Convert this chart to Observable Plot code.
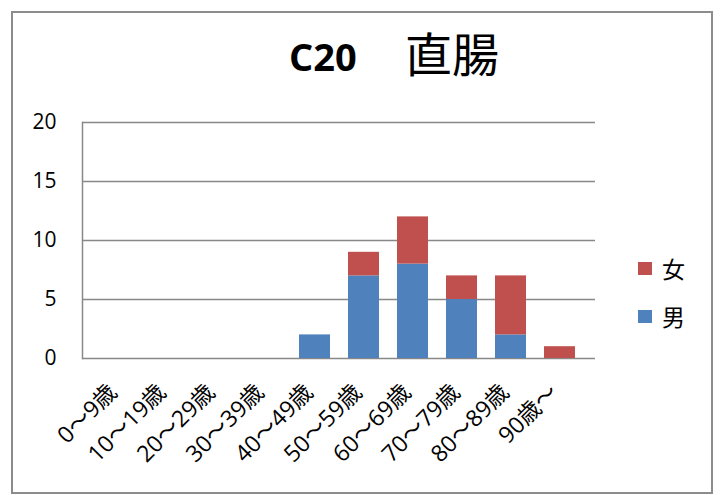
<!DOCTYPE html>
<html>
<head>
<meta charset="utf-8">
<script src="https://cdn.jsdelivr.net/npm/d3@7"></script>
<script src="https://cdn.jsdelivr.net/npm/@observablehq/plot@0.6"></script>
<style>
  html, body { margin: 0; padding: 0; background: #fff; }
  #wrap { position: relative; width: 721px; height: 495px; overflow: hidden; font-family: "Open Sans", "Noto Sans CJK JP", sans-serif; }
  #border { position: absolute; left: 11px; top: 11px; width: 702px; height: 483px; border: 2px solid #8c8c8c; box-sizing: border-box; pointer-events: none; }
  .t { position: absolute; color: #000; white-space: pre; line-height: 1; }
  #t1 { left: 289px; top: 37px; font-size: 38px; font-weight: 700; font-family: "Open Sans", sans-serif; }
  #t2 { left: 405px; top: 28px; font-size: 47px; font-family: "Noto Sans CJK JP", sans-serif; }
  .leg { position: absolute; left: 638px; font-size: 23px; line-height: 30px; font-family: "Noto Sans CJK JP", sans-serif; display: flex; align-items: center; }
  .leg i { display: inline-block; width: 14px; height: 13px; margin-right: 10px; }
  #plot { position: absolute; left: 0; top: 0; }
</style>
</head>
<body>
<div id="wrap">
  <div id="plot"></div>
  <div id="t1" class="t">C20</div>
  <div id="t2" class="t">直腸</div>
  <div id="legend"></div>
  <div id="border"></div>
</div>
<script>
const ageGroups = ["0～9歳", "10～19歳", "20～29歳", "30～39歳", "40～49歳", "50～59歳", "60～69歳", "70～79歳", "80～89歳", "90歳～"];
const male = [0, 0, 0, 0, 2, 7, 8, 5, 2, 0];
const female = [0, 0, 0, 0, 0, 2, 4, 2, 5, 1];
const sexes = ["男", "女"];
const colors = ["#4F81BD", "#C0504D"];
const yTicks = [0, 5, 10, 15, 20];

const rows = [
  ...ageGroups.map((a, i) => ({age: a, sex: "男", value: male[i]})),
  ...ageGroups.map((a, i) => ({age: a, sex: "女", value: female[i]}))
];

const chart = Plot.plot({
  width: 721,
  height: 495,
  marginLeft: 82,
  marginRight: 126,
  marginTop: 122,
  marginBottom: 137,
  style: {fontFamily: "'Open Sans', 'Noto Sans CJK JP', sans-serif", fontSize: "20px", color: "#000", background: "transparent"},
  x: {domain: ageGroups, padding: 0.37, label: null},
  y: {domain: [0, 20], label: null},
  color: {domain: sexes, range: colors},
  marks: [
    Plot.ruleY(yTicks, {stroke: "#888", strokeWidth: 1.5}),
    Plot.frame({anchor: "left", stroke: "#888", strokeWidth: 1.5}),
    Plot.barY(rows, Plot.stackY({x: "age", y: "value", fill: "sex", order: sexes})),
    Plot.axisY(yTicks, {tickSize: 0, tickPadding: 26, fontSize: 21, fill: "#000"}),
    Plot.axisX({tickSize: 0, tickRotate: -45, tickPadding: 30, fontSize: 23, fill: "#000", dx: -6})
  ]
});
document.getElementById("plot").appendChild(chart);

const legend = document.getElementById("legend");
[["女", colors[1], 253], ["男", colors[0], 301]].forEach(([t, c, top]) => {
  const d = document.createElement("div");
  d.className = "leg";
  d.style.top = top + "px";
  d.innerHTML = `<i style="background:${c}"></i>${t}`;
  legend.appendChild(d);
});
</script>
</body>
</html>
